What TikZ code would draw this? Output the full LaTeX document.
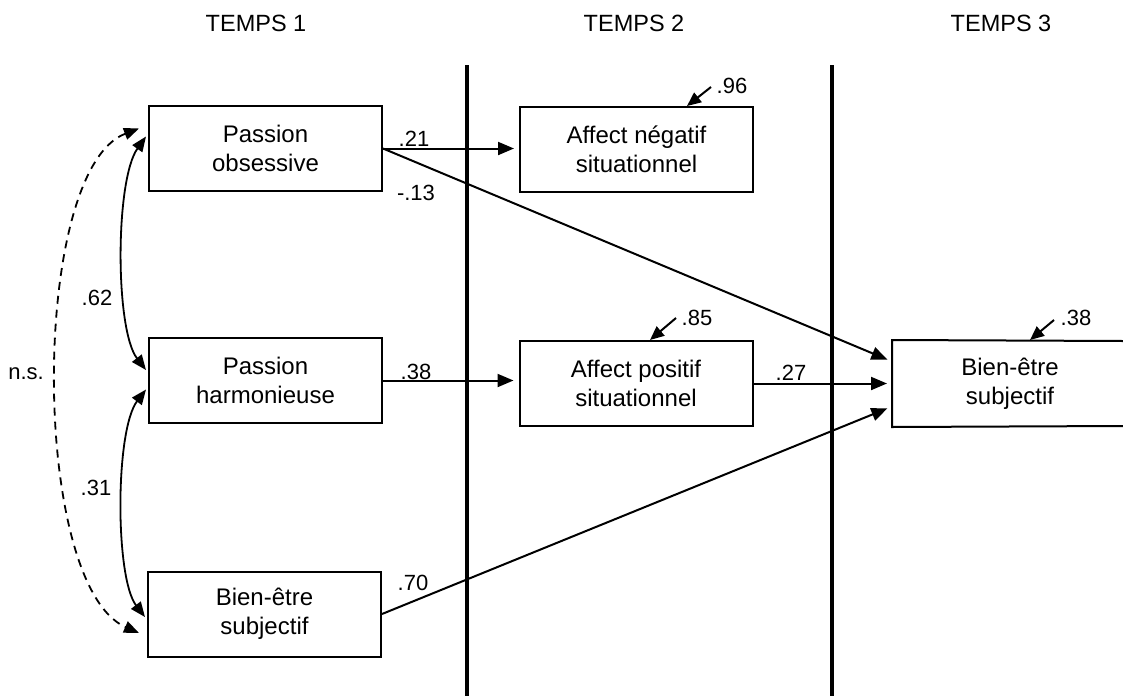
\documentclass[tikz,border=0pt]{standalone}
\usepackage{fontspec}
\setmainfont{Liberation Sans}
\usetikzlibrary{arrows.meta}
\begin{document}
\begin{tikzpicture}[x=1pt,y=-1pt,
  box/.style={draw, line width=2pt, minimum width=233pt, minimum height=85pt, align=center, inner sep=0pt, font=\fontsize{24}{29}\selectfont},
  hdr/.style={inner sep=0pt, font=\fontsize{23.5}{28}\selectfont},
  lab/.style={inner sep=0pt, font=\fontsize{22}{25}\selectfont},
  arr/.style={-{Triangle[length=16pt,width=13pt]}, line width=2pt},
  resid/.style={-{Triangle[length=14pt,width=12pt]}, line width=2pt},
  dbl/.style={{Triangle[length=15pt,width=12pt]}-{Triangle[length=15pt,width=12pt]}, line width=1.8pt},
  divider/.style={line width=3.2pt}]
\useasboundingbox (0,0) rectangle (1123,696);
% headers
\node[hdr] (T1) at (256,23) {TEMPS 1};
\node[hdr] (T2) at (634,23) {TEMPS 2};
\node[hdr] (T3) at (1001,23) {TEMPS 3};
% dividers
\draw[divider] (467,65) -- (467,696);
\draw[divider] (832,65) -- (832,696);
% boxes
\node[box] (PO) at (265.5,148.5) {Passion\\obsessive};
\node[box] (PH) at (265.5,380.5) {Passion\\harmonieuse};
\node[box] (BE1) at (264.5,614) {Bien-être\\subjectif};
\node[box] (ANS) at (636.5,149.5) {Affect négatif\\situationnel};
\node[box] (APS) at (636,383.5) {Affect positif\\situationnel};
\node[box, draw=none, minimum width=234pt] (BE3) at (1010,383.5) {Bien-être\\subjectif};
\coordinate (BE3ne) at (1123,341);
\coordinate (BE3se) at (1123,426);
\draw[line width=2pt] (BE3ne) -- (BE3.north west) -- (BE3.south west) -- (BE3se);
% paths
\draw[arr, shorten >=5pt] (PO.east) -- (PO.east -| ANS.west);
\draw[arr, shorten >=5pt] (PO.east) -- ([yshift=22pt]BE3.west);
\draw[arr, shorten >=5pt] (PH.east) -- (PH.east -| APS.west);
\draw[arr, shorten >=5pt] (APS.east) -- (BE3.west);
\draw[arr, shorten >=5pt] (BE1.east) -- ([yshift=-23pt]BE3.west);
% residuals
\coordinate (r1) at (711,87);
\coordinate (r2) at (676,318);
\coordinate (r3) at (1054,320);
\draw[resid] (r1) -- ([xshift=50.5pt]ANS.north);
\draw[resid] (r2) -- ([xshift=14pt]APS.north);
\draw[resid] (r3) -- ([xshift=20pt]BE3.north);
\node[lab] (l96) at (732,86) {.96};
\node[lab] (l85) at (697,318) {.85};
\node[lab] (l38b) at (1076,318) {.38};
% path labels
\node[lab] (l21) at (414,139) {.21};
\node[lab] (l13) at (416,193) {-.13};
\node[lab] (l38) at (416,372) {.38};
\node[lab] (l27) at (791,373) {.27};
\node[lab] (l70) at (413,583) {.70};
% correlations
\draw[dbl] ([xshift=-2pt,yshift=12pt]PO.west) .. controls (115,180) and (115,330) .. ([xshift=-2pt,yshift=10.5pt]PH.west);
\draw[dbl] ([xshift=-2pt,yshift=-9pt]PH.west) .. controls (115,430) and (115,578) .. ([xshift=-2pt,yshift=-3pt]BE1.west);
\draw[dbl, dash pattern=on 8pt off 6pt] ([xshift=-9pt,yshift=20pt]PO.west) .. controls (30,170) and (30,585) .. ([xshift=-8pt,yshift=-19pt]BE1.west);
\node[lab] (l62) at (97,298) {.62};
\node[lab] (l31) at (96,488) {.31};
\node[lab] (lns) at (26,374) {n.s.};
\end{tikzpicture}
\end{document}
